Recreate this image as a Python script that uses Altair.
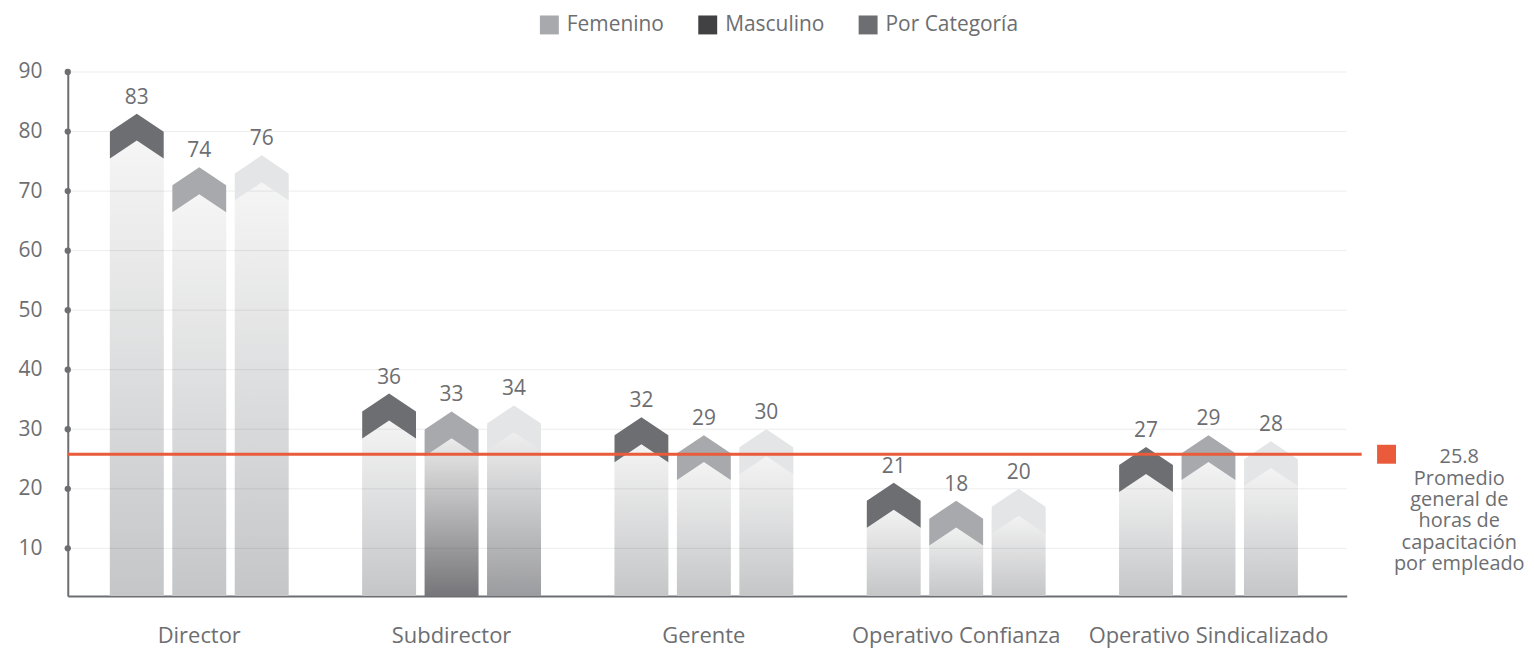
import altair as alt
import pandas as pd

# ---- data ----
categorias = ["Director", "Subdirector", "Gerente", "Operativo Confianza", "Operativo Sindicalizado"]
series = ["Masculino", "Femenino", "Por Categoría"]
masculino = [83, 36, 32, 21, 27]
femenino = [74, 33, 29, 18, 29]
por_categoria = [76, 34, 30, 20, 28]
leyenda = ["Femenino", "Masculino", "Por Categoría"]
promedio = 25.8
anotacion = ["Promedio", "general de", "horas de", "capacitación", "por empleado"]
ticks_y = [10, 20, 30, 40, 50, 60, 70, 80, 90]

rows = []
for i, c in enumerate(categorias):
    for s, vals in zip(series, [masculino, femenino, por_categoria]):
        rows.append({"categoria": c, "serie": s, "valor": vals[i]})
df = pd.DataFrame(rows)
df_ticks = pd.DataFrame({"tick": ticks_y})
df_prom = pd.DataFrame({"promedio": [promedio]})
df_ley = pd.DataFrame({"leyenda": leyenda})

# ---- styles ----
TXT = "#6d6e71"
RED = "#e95b3a"
chev_colors = ["#6d6e71", "#a7a9ac", "#e4e5e6"]
ley_colors = ["#a7a9ac", "#414042", "#6d6e71"]
W, H = 1284, 526
CHEVRON = "M0,0 L1,0.67 L1,1.67 L0,1 L-1,1.67 L-1,0.67 Z"

yscale = alt.Scale(domain=[2, 90], nice=False, zero=False)
yaxis = alt.Axis(title=None, values=ticks_y, labelFontSize=21, labelColor=TXT,
                 labelPadding=26, ticks=False, domainColor=TXT, domainWidth=2, grid=False)


def Y(field):
    return alt.Y(field, scale=yscale, axis=yaxis, stack=None)


xenc = alt.X("categoria:N", sort=categorias,
             scale=alt.Scale(paddingInner=0.291, paddingOuter=0.18, align=0.463),
             axis=alt.Axis(title=None, labelAngle=0, labelFontSize=22, labelColor=TXT,
                           labelPadding=30, labelLimit=0, ticks=False, domainColor=TXT,
                           domainWidth=2, grid=False))
xoff = alt.XOffset("serie:N", sort=series, scale=alt.Scale(paddingInner=0.136, paddingOuter=0))

base = alt.Chart(df).encode(x=xenc, xOffset=xoff)


def grad(top, bottom):
    return alt.Gradient(gradient="linear", x1=0, x2=0, y1=0, y2=1,
                        stops=[alt.GradientStop(color=top, offset=0),
                               alt.GradientStop(color=bottom, offset=1)])


bars_default = base.transform_filter(
    "!(datum.categoria === 'Subdirector' && datum.serie !== 'Masculino')"
).mark_bar(yOffset=20, clip=True, fill=grad("#f6f6f6", "#c5c6c8")).encode(y=Y("valor:Q"))

bars_dark = base.transform_filter(
    "datum.categoria === 'Subdirector' && datum.serie === 'Femenino'"
).mark_bar(yOffset=20, clip=True, fill=grad("#f0f0f0", "#76767a")).encode(y=Y("valor:Q"))

bars_mid = base.transform_filter(
    "datum.categoria === 'Subdirector' && datum.serie === 'Por Categoría'"
).mark_bar(yOffset=20, clip=True, fill=grad("#f2f2f2", "#9b9c9f")).encode(y=Y("valor:Q"))

grid = alt.Chart(df_ticks).mark_rule(color="black", opacity=0.08, strokeWidth=1).encode(
    y=Y("tick:Q"), x=alt.value(0), x2=alt.value("width"))

chevrons = base.mark_point(shape=CHEVRON, size=2916, filled=True, opacity=1, strokeWidth=0).encode(
    y=Y("valor:Q"),
    color=alt.Color("serie:N", scale=alt.Scale(domain=series, range=chev_colors), legend=None))

dots = alt.Chart(df_ticks).mark_circle(size=40, color=TXT, opacity=1).encode(
    x=alt.value(0), y=Y("tick:Q"))

red_line = alt.Chart(df_prom).mark_rule(color=RED, strokeWidth=3).encode(
    y=Y("promedio:Q"), x=alt.value(0), x2=alt.value(W + 15))

red_sq = alt.Chart(df_prom).mark_square(size=361, color=RED, opacity=1).encode(
    x=alt.value(W + 40), y=Y("promedio:Q"))

red_txt = alt.Chart(df_prom).mark_text(
    text=[f"{promedio}"] + anotacion, align="center", baseline="top", dy=-7,
    fontSize=20, lineHeight=21.5, color=TXT).encode(x=alt.value(W + 113), y=Y("promedio:Q"))

labels = base.mark_text(baseline="alphabetic", dy=-10, fontSize=21, color=TXT).encode(
    y=Y("valor:Q"), text="valor:Q")

legend_layer = alt.Chart(df_ley).mark_square(opacity=0).encode(
    fill=alt.Fill("leyenda:N", scale=alt.Scale(domain=leyenda, range=ley_colors),
                  legend=alt.Legend(title=None, orient="none", legendX=473, legendY=-58,
                                    direction="horizontal", symbolType="square",
                                    symbolSize=361, symbolStrokeWidth=0, symbolOpacity=1,
                                    labelFontSize=21, labelColor=TXT, labelOffset=7,
                                    columnPadding=33)))

chart = alt.layer(
    bars_default, bars_dark, bars_mid, grid, chevrons, dots, red_line, red_sq, red_txt,
    labels, legend_layer
).properties(
    width=W, height=H,
    autosize=alt.AutoSizeParams(type="none"),
    padding={"left": 60, "top": 63, "right": 180, "bottom": 53},
).configure(font="Open Sans", background="white").configure_view(stroke=None)

chart.save("out.html", embed_options={"renderer": "svg", "actions": False})
